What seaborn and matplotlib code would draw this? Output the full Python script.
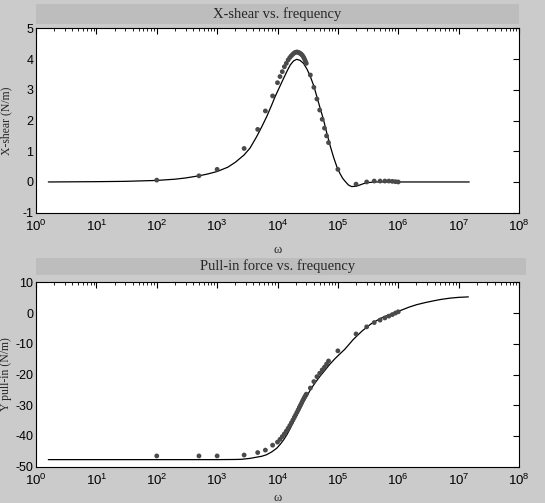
import numpy as np
import pandas as pd
import seaborn as sns
import matplotlib.pyplot as plt
from matplotlib.patches import Rectangle
from matplotlib.ticker import LogLocator, NullFormatter

# frecuencias medidas (comunes a las dos graficas)
freq = [1e2, 5e2, 1e3, 2.8e3, 4.7e3, 6.3e3, 8.3e3,
        1.0e4, 1.1e4, 1.2e4, 1.3e4, 1.4e4, 1.5e4, 1.6e4, 1.7e4, 1.8e4, 1.9e4, 2.0e4,
        2.1e4, 2.2e4, 2.3e4, 2.4e4, 2.5e4, 2.6e4, 2.7e4, 2.8e4, 2.9e4, 3.0e4,
        3.5e4, 4.0e4, 4.5e4, 5.0e4, 5.5e4, 6.0e4, 6.5e4, 7.0e4,
        1e5, 2e5, 3e5, 4e5, 5e5, 6e5, 7e5, 8e5, 9e5, 1e6]

shear_pts = [0.06, 0.2, 0.41, 1.09, 1.71, 2.31, 2.80,
             3.23, 3.43, 3.59, 3.75, 3.86, 3.97, 4.05, 4.11, 4.16, 4.20, 4.22,
             4.23, 4.22, 4.20, 4.18, 4.15, 4.11, 4.06, 4.00, 3.93, 3.86,
             3.48, 3.08, 2.70, 2.34, 2.04, 1.75, 1.50, 1.28,
             0.41, -0.07, 0.0, 0.03, 0.03, 0.03, 0.03, 0.02, 0.01, 0.0]

pull_pts = [-46.5, -46.5, -46.5, -46.2, -45.4, -44.6, -43.0,
            -42.0, -41.1, -40.2, -39.3, -38.4, -37.5, -36.6, -35.7, -34.8, -33.9, -33.1,
            -32.3, -31.5, -30.7, -30.0, -29.3, -28.6, -28.0, -27.4, -26.9, -26.4,
            -24.4, -22.3, -20.7, -19.6, -18.5, -17.6, -16.6, -15.6,
            -12.3, -6.8, -4.5, -3.1, -2.3, -1.6, -1.0, -0.5, 0.0, 0.4]

# curvas del modelo
shear_line_x = [1.6, 10, 30, 100, 200, 300, 500, 700, 1e3, 1.5e3, 2e3, 2.8e3, 3.5e3, 4.5e3,
                5.5e3, 6.6e3, 8e3, 9.1e3, 1.1e4, 1.26e4, 1.45e4, 1.63e4, 1.85e4, 2.08e4,
                2.35e4, 2.7e4, 3.1e4, 3.5e4, 4e4, 4.45e4, 5e4, 5.76e4, 6.5e4, 7.4e4, 8.5e4,
                9.6e4, 1.08e5, 1.2e5, 1.32e5, 1.5e5, 1.69e5, 2e5, 2.3e5, 2.7e5, 3.2e5, 4e5,
                1e6, 1.5e7]
shear_line_y = [0.0, 0.01, 0.02, 0.05, 0.09, 0.13, 0.2, 0.26, 0.34, 0.48, 0.64, 0.88, 1.1, 1.47,
                1.8, 2.12, 2.5, 2.77, 3.12, 3.37, 3.62, 3.81, 3.94, 3.99,
                3.96, 3.86, 3.66, 3.43, 3.12, 2.8, 2.45, 2.04, 1.62, 1.2, 0.8,
                0.5, 0.28, 0.12, 0.02, -0.1, -0.15, -0.14, -0.1, -0.05, -0.02, 0.0,
                0.0, 0.0]

pull_line_x = [1.6, 1e3, 2e3, 2.5e3, 3.5e3, 4.5e3, 5.5e3, 6.6e3, 8e3, 9.7e3, 1.1e4, 1.27e4,
               1.45e4, 1.63e4, 1.85e4, 2.1e4, 2.4e4, 2.7e4, 3.1e4, 3.5e4, 4.2e4, 5e4, 6e4,
               7.4e4, 9e4, 1.08e5, 1.3e5, 1.5e5, 1.8e5, 2.5e5, 3.5e5, 5e5, 6.4e5, 1.07e6,
               1.5e6, 2e6, 2.8e6, 3.8e6, 5e6, 7.2e6, 1e7, 1.45e7]
pull_line_y = [-47.7, -47.7, -47.65, -47.6, -47.3, -46.9, -46.6, -46.1, -45.2, -44.0, -42.8, -41.2,
               -39.4, -37.5, -35.3, -33.2, -31.0, -28.9, -26.9, -25.0, -22.7, -20.7, -18.8,
               -16.6, -14.8, -13.3, -11.8, -10.4, -8.6, -5.9, -3.6, -1.8, -0.9, 0.76,
               1.9, 2.7, 3.4, 3.95, 4.4, 4.85, 5.1, 5.25]

xticks = [1e0, 1e1, 1e2, 1e3, 1e4, 1e5, 1e6, 1e7, 1e8]

df = pd.DataFrame({"w": freq, "shear": shear_pts, "pull": pull_pts})
df_l1 = pd.DataFrame({"w": shear_line_x, "v": shear_line_y})
df_l2 = pd.DataFrame({"w": pull_line_x, "v": pull_line_y})

sns.set_style("white")
plt.rcParams["font.family"] = ["Liberation Sans", "DejaVu Sans"]
plt.rcParams["axes.unicode_minus"] = False
plt.rcParams["mathtext.default"] = "regular"

fig = plt.figure(figsize=(5.45, 5.03), dpi=100)
fig.patch.set_facecolor("#cbcbcb")

W, H = 545.0, 503.0
ax1 = fig.add_axes([36 / W, 1 - 212.7 / H, 483 / W, 184.4 / H])
ax2 = fig.add_axes([36 / W, 1 - 466.7 / H, 483 / W, 184.4 / H])

serif = ["Liberation Serif", "DejaVu Serif"]

def arreglar(ax, ylim, yticks, titulo, ylab, bar0, bar1, barx1, xlab_y):
    ax.set_xscale("log")
    ax.set_xlim(1, 1e8)
    ax.set_ylim(*ylim)
    ax.set_yticks(yticks)
    ax.set_xticks(xticks)
    ax.xaxis.set_minor_locator(LogLocator(base=10, subs=np.arange(2, 10), numticks=100))
    ax.xaxis.set_minor_formatter(NullFormatter())
    ax.set_xlim(1, 1e8)
    ax.tick_params(which="both", direction="in", top=True, right=True, colors="black")
    ax.tick_params(axis="x", labelsize=9.5, pad=4.5)
    ax.tick_params(axis="y", labelsize=9, pad=2)
    ax.tick_params(which="major", length=4, width=0.8)
    ax.tick_params(which="minor", length=2.5, width=0.6)
    for s in ax.spines.values():
        s.set_color("black")
        s.set_linewidth(0.8)
    ax.set_xlabel("ω", fontsize=9, family=serif)
    ax.xaxis.set_label_coords(0.5, xlab_y)
    ax.set_ylabel(ylab, fontsize=8.5, family=serif)
    ax.yaxis.set_label_coords(-0.049, 0.5)
    ax.add_patch(Rectangle((0, bar0), barx1, bar1 - bar0, transform=ax.transAxes,
                           facecolor="#bdbdbd", edgecolor="none", clip_on=False))
    ax.text(0.5, (bar0 + bar1) / 2, titulo, transform=ax.transAxes, ha="center",
            va="center", fontsize=10.5, family=serif)

sns.lineplot(data=df_l1, x="w", y="v", ax=ax1, color="black", linewidth=0.9,
             estimator=None, sort=False)
sns.scatterplot(data=df, x="w", y="shear", ax=ax1, color="#4a4a4a", s=12,
                edgecolor="none", zorder=3)
arreglar(ax1, (-1, 5), range(-1, 6), "X-shear vs. frequency", "X-shear (N/m)",
         1.0217, 1.132, 1.0, -0.168)

sns.lineplot(data=df_l2, x="w", y="v", ax=ax2, color="black", linewidth=0.9,
             estimator=None, sort=False)
sns.scatterplot(data=df, x="w", y="pull", ax=ax2, color="#4a4a4a", s=12,
                edgecolor="none", zorder=3)
arreglar(ax2, (-50, 10), range(-50, 11, 10), "Pull-in force vs. frequency",
         "Y pull-in (N/m)", 1.04, 1.133, 1.015, -0.135)

plt.savefig("out.png", dpi=100, facecolor=fig.get_facecolor())
